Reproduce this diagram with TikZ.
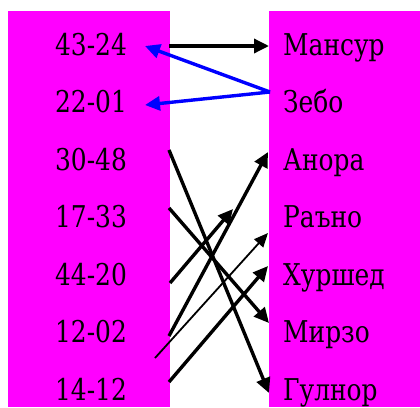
\documentclass[tikz,border=0pt]{standalone}
\usepackage{fontspec}
\newfontfamily\tnr{DejaVu Serif}[FakeStretch=0.83]
\usetikzlibrary{arrows.meta}
\definecolor{mag}{HTML}{FF00FF}
\definecolor{blu}{HTML}{0000FF}
\begin{document}
\begin{tikzpicture}[x=1pt,y=-1pt,
  lbl/.style={inner sep=0pt,font=\tnr\fontsize{30}{34}\selectfont},
  lnum/.style={lbl,anchor=base},
  rname/.style={lbl,anchor=base west},
  arr/.style={line width=3.4pt,-{Triangle[length=15pt,width=14pt]}},
  blarr/.style={arr,blu},
  thinarr/.style={line width=1.8pt,-{Triangle[length=14pt,width=12pt]}}]
\useasboundingbox (0,0) rectangle (420,407);
\fill[mag] (8,11) rectangle (170,407);
\fill[mag] (269,11) rectangle (420,407);
% left labels
\node[lnum] (n1) at (91,55) {43-24};
\node[lnum] (n2) at (91,112.5) {22-01};
\node[lnum] (n3) at (91,170) {30-48};
\node[lnum] (n4) at (91,227.5) {17-33};
\node[lnum] (n5) at (91,285) {44-20};
\node[lnum] (n6) at (91,342.5) {12-02};
\node[lnum] (n7) at (91,400) {14-12};
% right labels
\node[rname] (m1) at (283,55) {Мансур};
\node[rname] (m2) at (283,112.5) {Зебо};
\node[rname] (m3) at (283,170) {Анора};
\node[rname] (m4) at (283,227.5) {Раъно};
\node[rname] (m5) at (283,285) {Хуршед};
\node[rname] (m6) at (283,342.5) {Мирзо};
\node[rname] (m7) at (283,400) {Гулнор};
% connector ends
\coordinate (a1s) at (169,46);
\coordinate (a1e) at (269,46);
\coordinate (zb) at (270,92);
\coordinate (b1e) at (145,46);
\coordinate (b2e) at (145,105);
\coordinate (a4s) at (169,150);
\coordinate (a4e) at (269,393);
\coordinate (a5s) at (169,208);
\coordinate (a5e) at (269,323);
\coordinate (a6s) at (170,283);
\coordinate (a6e) at (233,209);
\coordinate (a7s) at (169,336);
\coordinate (a7e) at (268,152);
\coordinate (a8s) at (155,358);
\coordinate (a8e) at (268,233);
\coordinate (a9s) at (169,382);
\coordinate (a9e) at (268,266);
% connectors
\draw[arr] (a1s) -- (a1e);
\draw[blarr] (zb) -- (b1e);
\draw[blarr] (zb) -- (b2e);
\draw[arr] (a4s) -- (a4e);
\draw[arr] (a5s) -- (a5e);
\draw[arr] (a6s) -- (a6e);
\draw[arr] (a7s) -- (a7e);
\draw[thinarr] (a8s) -- (a8e);
\draw[arr] (a9s) -- (a9e);
\end{tikzpicture}
\end{document}
